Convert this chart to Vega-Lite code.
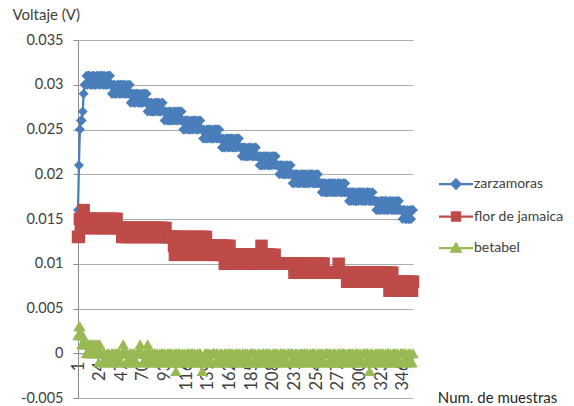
{
"$schema": "https://vega.github.io/schema/vega-lite/v6.json",
"width": 335,
"height": 358,
"autosize": {"type": "none"},
"padding": {"left": 78, "top": 40, "right": 161, "bottom": 8},
"background": "white",
"config": {"view": {"stroke": null}, "font": "Lato"},
"data": {"values": [
{"n":1,"z":0.016,"f":0.013,"b":0.002},
{"n":2,"z":0.021,"f":0.013,"b":0.003},
{"n":3,"z":0.025,"f":0.015,"b":0.003},
{"n":4,"z":0.026,"f":0.014,"b":0.002},
{"n":5,"z":0.026,"f":0.015,"b":0.001},
{"n":6,"z":0.027,"f":0.015,"b":0.002},
{"n":7,"z":0.029,"f":0.016,"b":0.001},
{"n":8,"z":0.03,"f":0.015,"b":0.001},
{"n":9,"z":0.03,"f":0.014,"b":0.001},
{"n":10,"z":0.031,"f":0.015,"b":0},
{"n":11,"z":0.03,"f":0.015,"b":0.001},
{"n":12,"z":0.031,"f":0.014,"b":0.001},
{"n":13,"z":0.031,"f":0.015,"b":0},
{"n":14,"z":0.03,"f":0.015,"b":0.001},
{"n":15,"z":0.03,"f":0.014,"b":0.001},
{"n":16,"z":0.031,"f":0.015,"b":0},
{"n":17,"z":0.03,"f":0.014,"b":0.001},
{"n":18,"z":0.031,"f":0.014,"b":0},
{"n":19,"z":0.03,"f":0.015,"b":0.001},
{"n":20,"z":0.03,"f":0.015,"b":0.001},
{"n":21,"z":0.031,"f":0.014,"b":0},
{"n":22,"z":0.031,"f":0.015,"b":0.001},
{"n":23,"z":0.03,"f":0.014,"b":-0.001},
{"n":24,"z":0.031,"f":0.015,"b":0.001},
{"n":25,"z":0.03,"f":0.015,"b":0},
{"n":26,"z":0.031,"f":0.014,"b":0},
{"n":27,"z":0.031,"f":0.014,"b":-0.001},
{"n":28,"z":0.03,"f":0.015,"b":0},
{"n":29,"z":0.031,"f":0.014,"b":0},
{"n":30,"z":0.03,"f":0.015,"b":-0.001},
{"n":31,"z":0.03,"f":0.015,"b":-0.001},
{"n":32,"z":0.031,"f":0.014,"b":0},
{"n":33,"z":0.03,"f":0.015,"b":-0.001},
{"n":34,"z":0.031,"f":0.014,"b":0},
{"n":35,"z":0.031,"f":0.014,"b":-0.001},
{"n":36,"z":0.03,"f":0.015,"b":-0.001},
{"n":37,"z":0.029,"f":0.015,"b":0},
{"n":38,"z":0.03,"f":0.014,"b":0},
{"n":39,"z":0.029,"f":0.015,"b":-0.001},
{"n":40,"z":0.03,"f":0.014,"b":0},
{"n":41,"z":0.029,"f":0.015,"b":-0.001},
{"n":42,"z":0.029,"f":0.015,"b":0},
{"n":43,"z":0.03,"f":0.014,"b":0},
{"n":44,"z":0.03,"f":0.014,"b":-0.001},
{"n":45,"z":0.029,"f":0.014,"b":0},
{"n":46,"z":0.03,"f":0.014,"b":-0.001},
{"n":47,"z":0.029,"f":0.014,"b":-0.001},
{"n":48,"z":0.03,"f":0.013,"b":0},
{"n":49,"z":0.03,"f":0.013,"b":0.001},
{"n":50,"z":0.029,"f":0.014,"b":0},
{"n":51,"z":0.03,"f":0.014,"b":0},
{"n":52,"z":0.029,"f":0.013,"b":-0.001},
{"n":53,"z":0.029,"f":0.014,"b":0},
{"n":54,"z":0.03,"f":0.013,"b":-0.001},
{"n":55,"z":0.029,"f":0.014,"b":-0.001},
{"n":56,"z":0.03,"f":0.014,"b":0},
{"n":57,"z":0.028,"f":0.013,"b":0},
{"n":58,"z":0.029,"f":0.013,"b":-0.001},
{"n":59,"z":0.029,"f":0.014,"b":0},
{"n":60,"z":0.028,"f":0.013,"b":-0.001},
{"n":61,"z":0.029,"f":0.014,"b":0},
{"n":62,"z":0.028,"f":0.013,"b":-0.001},
{"n":63,"z":0.029,"f":0.014,"b":-0.001},
{"n":64,"z":0.029,"f":0.014,"b":0},
{"n":65,"z":0.028,"f":0.013,"b":0},
{"n":66,"z":0.029,"f":0.014,"b":0},
{"n":67,"z":0.028,"f":0.013,"b":0.001},
{"n":68,"z":0.028,"f":0.013,"b":0},
{"n":69,"z":0.029,"f":0.014,"b":0},
{"n":70,"z":0.028,"f":0.014,"b":-0.001},
{"n":71,"z":0.029,"f":0.013,"b":-0.001},
{"n":72,"z":0.029,"f":0.014,"b":0},
{"n":73,"z":0.028,"f":0.013,"b":-0.001},
{"n":74,"z":0.029,"f":0.014,"b":0},
{"n":75,"z":0.027,"f":0.013,"b":0.001},
{"n":76,"z":0.028,"f":0.013,"b":-0.001},
{"n":77,"z":0.028,"f":0.014,"b":0},
{"n":78,"z":0.027,"f":0.014,"b":0},
{"n":79,"z":0.028,"f":0.013,"b":-0.001},
{"n":80,"z":0.027,"f":0.014,"b":0},
{"n":81,"z":0.027,"f":0.013,"b":-0.001},
{"n":82,"z":0.028,"f":0.014,"b":0},
{"n":83,"z":0.027,"f":0.014,"b":0},
{"n":84,"z":0.028,"f":0.013,"b":-0.001},
{"n":85,"z":0.028,"f":0.013,"b":0},
{"n":86,"z":0.027,"f":0.014,"b":-0.001},
{"n":87,"z":0.028,"f":0.013,"b":-0.001},
{"n":88,"z":0.027,"f":0.014,"b":0},
{"n":89,"z":0.027,"f":0.014,"b":-0.001},
{"n":90,"z":0.028,"f":0.013,"b":0},
{"n":91,"z":0.028,"f":0.014,"b":0},
{"n":92,"z":0.027,"f":0.013,"b":-0.001},
{"n":93,"z":0.026,"f":0.013,"b":0},
{"n":94,"z":0.027,"f":0.014,"b":-0.001},
{"n":95,"z":0.027,"f":0.013,"b":-0.001},
{"n":96,"z":0.026,"f":0.013,"b":0},
{"n":97,"z":0.026,"f":0.013,"b":0},
{"n":98,"z":0.027,"f":0.013,"b":-0.001},
{"n":99,"z":0.026,"f":0.013,"b":0},
{"n":100,"z":0.027,"f":0.013,"b":-0.001},
{"n":101,"z":0.026,"f":0.013,"b":0},
{"n":102,"z":0.026,"f":0.013,"b":-0.001},
{"n":103,"z":0.027,"f":0.012,"b":-0.001},
{"n":104,"z":0.027,"f":0.011,"b":0},
{"n":105,"z":0.026,"f":0.012,"b":-0.002},
{"n":106,"z":0.027,"f":0.013,"b":0},
{"n":107,"z":0.026,"f":0.011,"b":-0.001},
{"n":108,"z":0.027,"f":0.012,"b":0},
{"n":109,"z":0.027,"f":0.013,"b":0},
{"n":110,"z":0.026,"f":0.012,"b":-0.001},
{"n":111,"z":0.027,"f":0.011,"b":-0.001},
{"n":112,"z":0.026,"f":0.013,"b":0},
{"n":113,"z":0.025,"f":0.012,"b":-0.001},
{"n":114,"z":0.026,"f":0.012,"b":0},
{"n":115,"z":0.025,"f":0.011,"b":-0.001},
{"n":116,"z":0.026,"f":0.013,"b":-0.001},
{"n":117,"z":0.026,"f":0.012,"b":0},
{"n":118,"z":0.025,"f":0.011,"b":0},
{"n":119,"z":0.026,"f":0.012,"b":-0.001},
{"n":120,"z":0.025,"f":0.013,"b":0},
{"n":121,"z":0.025,"f":0.011,"b":-0.001},
{"n":122,"z":0.026,"f":0.012,"b":0},
{"n":123,"z":0.025,"f":0.013,"b":0},
{"n":124,"z":0.026,"f":0.012,"b":-0.001},
{"n":125,"z":0.026,"f":0.011,"b":0},
{"n":126,"z":0.025,"f":0.012,"b":-0.001},
{"n":127,"z":0.026,"f":0.013,"b":-0.001},
{"n":128,"z":0.025,"f":0.011,"b":0},
{"n":129,"z":0.025,"f":0.012,"b":-0.001},
{"n":130,"z":0.026,"f":0.012,"b":0},
{"n":131,"z":0.026,"f":0.013,"b":0},
{"n":132,"z":0.025,"f":0.011,"b":-0.001},
{"n":133,"z":0.025,"f":0.012,"b":-0.002},
{"n":134,"z":0.024,"f":0.013,"b":-0.001},
{"n":135,"z":0.025,"f":0.012,"b":-0.001},
{"n":136,"z":0.024,"f":0.011,"b":0},
{"n":137,"z":0.024,"f":0.013,"b":0},
{"n":138,"z":0.025,"f":0.012,"b":-0.001},
{"n":139,"z":0.024,"f":0.011,"b":0},
{"n":140,"z":0.025,"f":0.012,"b":-0.001},
{"n":141,"z":0.025,"f":0.012,"b":0},
{"n":142,"z":0.024,"f":0.011,"b":-0.001},
{"n":143,"z":0.025,"f":0.012,"b":-0.001},
{"n":144,"z":0.024,"f":0.012,"b":0},
{"n":145,"z":0.024,"f":0.011,"b":0},
{"n":146,"z":0.025,"f":0.012,"b":0},
{"n":147,"z":0.025,"f":0.011,"b":-0.001},
{"n":148,"z":0.024,"f":0.011,"b":0},
{"n":149,"z":0.025,"f":0.012,"b":0},
{"n":150,"z":0.024,"f":0.011,"b":-0.001},
{"n":151,"z":0.025,"f":0.012,"b":-0.001},
{"n":152,"z":0.024,"f":0.012,"b":0},
{"n":153,"z":0.024,"f":0.011,"b":-0.001},
{"n":154,"z":0.023,"f":0.012,"b":0},
{"n":155,"z":0.024,"f":0.011,"b":-0.001},
{"n":156,"z":0.023,"f":0.012,"b":-0.001},
{"n":157,"z":0.023,"f":0.01,"b":0},
{"n":158,"z":0.024,"f":0.011,"b":0},
{"n":159,"z":0.024,"f":0.012,"b":-0.001},
{"n":160,"z":0.023,"f":0.01,"b":0},
{"n":161,"z":0.024,"f":0.011,"b":-0.001},
{"n":162,"z":0.023,"f":0.012,"b":0},
{"n":163,"z":0.024,"f":0.01,"b":0},
{"n":164,"z":0.024,"f":0.011,"b":-0.001},
{"n":165,"z":0.023,"f":0.011,"b":0},
{"n":166,"z":0.024,"f":0.01,"b":-0.001},
{"n":167,"z":0.023,"f":0.011,"b":-0.001},
{"n":168,"z":0.023,"f":0.011,"b":0},
{"n":169,"z":0.024,"f":0.01,"b":-0.001},
{"n":170,"z":0.023,"f":0.01,"b":0},
{"n":171,"z":0.024,"f":0.011,"b":0},
{"n":172,"z":0.024,"f":0.01,"b":-0.001},
{"n":173,"z":0.023,"f":0.011,"b":0},
{"n":174,"z":0.023,"f":0.01,"b":-0.001},
{"n":175,"z":0.022,"f":0.011,"b":-0.001},
{"n":176,"z":0.023,"f":0.011,"b":0},
{"n":177,"z":0.023,"f":0.01,"b":0},
{"n":178,"z":0.022,"f":0.011,"b":-0.001},
{"n":179,"z":0.023,"f":0.01,"b":0},
{"n":180,"z":0.022,"f":0.01,"b":-0.001},
{"n":181,"z":0.022,"f":0.011,"b":0},
{"n":182,"z":0.023,"f":0.01,"b":-0.001},
{"n":183,"z":0.022,"f":0.011,"b":-0.001},
{"n":184,"z":0.023,"f":0.011,"b":0},
{"n":185,"z":0.023,"f":0.01,"b":0},
{"n":186,"z":0.022,"f":0.011,"b":0},
{"n":187,"z":0.022,"f":0.01,"b":-0.001},
{"n":188,"z":0.023,"f":0.01,"b":0},
{"n":189,"z":0.022,"f":0.011,"b":0},
{"n":190,"z":0.023,"f":0.011,"b":-0.001},
{"n":191,"z":0.022,"f":0.01,"b":-0.001},
{"n":192,"z":0.022,"f":0.011,"b":0},
{"n":193,"z":0.022,"f":0.01,"b":-0.001},
{"n":194,"z":0.021,"f":0.01,"b":0},
{"n":195,"z":0.022,"f":0.011,"b":-0.001},
{"n":196,"z":0.021,"f":0.012,"b":-0.001},
{"n":197,"z":0.021,"f":0.01,"b":0},
{"n":198,"z":0.022,"f":0.011,"b":0},
{"n":199,"z":0.021,"f":0.01,"b":-0.001},
{"n":200,"z":0.022,"f":0.011,"b":0},
{"n":201,"z":0.022,"f":0.01,"b":-0.001},
{"n":202,"z":0.021,"f":0.01,"b":0},
{"n":203,"z":0.022,"f":0.011,"b":0},
{"n":204,"z":0.021,"f":0.01,"b":-0.001},
{"n":205,"z":0.021,"f":0.011,"b":0},
{"n":206,"z":0.022,"f":0.01,"b":-0.001},
{"n":207,"z":0.021,"f":0.011,"b":-0.001},
{"n":208,"z":0.022,"f":0.01,"b":0},
{"n":209,"z":0.022,"f":0.01,"b":-0.001},
{"n":210,"z":0.021,"f":0.011,"b":0},
{"n":211,"z":0.022,"f":0.01,"b":0},
{"n":212,"z":0.021,"f":0.01,"b":-0.001},
{"n":213,"z":0.021,"f":0.01,"b":0},
{"n":214,"z":0.021,"f":0.01,"b":-0.001},
{"n":215,"z":0.02,"f":0.01,"b":-0.001},
{"n":216,"z":0.021,"f":0.01,"b":0},
{"n":217,"z":0.021,"f":0.01,"b":0},
{"n":218,"z":0.02,"f":0.01,"b":-0.001},
{"n":219,"z":0.021,"f":0.01,"b":0},
{"n":220,"z":0.02,"f":0.01,"b":-0.001},
{"n":221,"z":0.02,"f":0.01,"b":0},
{"n":222,"z":0.021,"f":0.01,"b":-0.001},
{"n":223,"z":0.02,"f":0.01,"b":-0.001},
{"n":224,"z":0.021,"f":0.01,"b":0},
{"n":225,"z":0.02,"f":0.01,"b":0},
{"n":226,"z":0.02,"f":0.01,"b":0},
{"n":227,"z":0.021,"f":0.01,"b":-0.001},
{"n":228,"z":0.02,"f":0.01,"b":0},
{"n":229,"z":0.019,"f":0.01,"b":0},
{"n":230,"z":0.02,"f":0.01,"b":-0.001},
{"n":231,"z":0.019,"f":0.009,"b":-0.001},
{"n":232,"z":0.02,"f":0.01,"b":0},
{"n":233,"z":0.02,"f":0.01,"b":-0.001},
{"n":234,"z":0.019,"f":0.009,"b":0},
{"n":235,"z":0.02,"f":0.009,"b":-0.001},
{"n":236,"z":0.019,"f":0.01,"b":-0.001},
{"n":237,"z":0.019,"f":0.009,"b":0},
{"n":238,"z":0.02,"f":0.01,"b":0},
{"n":239,"z":0.02,"f":0.009,"b":-0.001},
{"n":240,"z":0.019,"f":0.01,"b":0},
{"n":241,"z":0.02,"f":0.01,"b":-0.001},
{"n":242,"z":0.019,"f":0.009,"b":0},
{"n":243,"z":0.02,"f":0.01,"b":0},
{"n":244,"z":0.019,"f":0.009,"b":-0.001},
{"n":245,"z":0.019,"f":0.009,"b":0},
{"n":246,"z":0.02,"f":0.01,"b":-0.001},
{"n":247,"z":0.019,"f":0.009,"b":-0.001},
{"n":248,"z":0.02,"f":0.01,"b":0},
{"n":249,"z":0.02,"f":0.01,"b":-0.001},
{"n":250,"z":0.019,"f":0.009,"b":0},
{"n":251,"z":0.02,"f":0.01,"b":0},
{"n":252,"z":0.019,"f":0.009,"b":-0.001},
{"n":253,"z":0.019,"f":0.009,"b":0},
{"n":254,"z":0.02,"f":0.01,"b":-0.001},
{"n":255,"z":0.019,"f":0.009,"b":-0.001},
{"n":256,"z":0.02,"f":0.01,"b":0},
{"n":257,"z":0.019,"f":0.009,"b":0},
{"n":258,"z":0.019,"f":0.01,"b":-0.001},
{"n":259,"z":0.019,"f":0.01,"b":0},
{"n":260,"z":0.018,"f":0.009,"b":-0.001},
{"n":261,"z":0.019,"f":0.01,"b":0},
{"n":262,"z":0.019,"f":0.01,"b":-0.001},
{"n":263,"z":0.018,"f":0.009,"b":-0.001},
{"n":264,"z":0.019,"f":0.009,"b":0},
{"n":265,"z":0.018,"f":0.009,"b":0},
{"n":266,"z":0.018,"f":0.009,"b":0},
{"n":267,"z":0.019,"f":0.009,"b":-0.001},
{"n":268,"z":0.018,"f":0.009,"b":0},
{"n":269,"z":0.019,"f":0.009,"b":0},
{"n":270,"z":0.019,"f":0.009,"b":-0.001},
{"n":271,"z":0.018,"f":0.009,"b":-0.001},
{"n":272,"z":0.019,"f":0.009,"b":0},
{"n":273,"z":0.018,"f":0.009,"b":-0.001},
{"n":274,"z":0.019,"f":0.009,"b":0},
{"n":275,"z":0.018,"f":0.009,"b":-0.001},
{"n":276,"z":0.018,"f":0.009,"b":-0.001},
{"n":277,"z":0.019,"f":0.009,"b":0},
{"n":278,"z":0.019,"f":0.01,"b":0},
{"n":279,"z":0.018,"f":0.009,"b":-0.001},
{"n":280,"z":0.019,"f":0.009,"b":0},
{"n":281,"z":0.018,"f":0.009,"b":-0.001},
{"n":282,"z":0.018,"f":0.009,"b":0},
{"n":283,"z":0.019,"f":0.009,"b":0},
{"n":284,"z":0.018,"f":0.009,"b":-0.001},
{"n":285,"z":0.019,"f":0.009,"b":0},
{"n":286,"z":0.018,"f":0.009,"b":-0.001},
{"n":287,"z":0.018,"f":0.008,"b":-0.001},
{"n":288,"z":0.018,"f":0.009,"b":0},
{"n":289,"z":0.017,"f":0.009,"b":-0.001},
{"n":290,"z":0.018,"f":0.008,"b":0},
{"n":291,"z":0.017,"f":0.009,"b":0},
{"n":292,"z":0.018,"f":0.008,"b":-0.001},
{"n":293,"z":0.018,"f":0.008,"b":0},
{"n":294,"z":0.017,"f":0.009,"b":-0.001},
{"n":295,"z":0.018,"f":0.008,"b":-0.001},
{"n":296,"z":0.017,"f":0.009,"b":0},
{"n":297,"z":0.017,"f":0.009,"b":0},
{"n":298,"z":0.018,"f":0.008,"b":-0.001},
{"n":299,"z":0.017,"f":0.009,"b":0},
{"n":300,"z":0.018,"f":0.008,"b":-0.001},
{"n":301,"z":0.018,"f":0.008,"b":0},
{"n":302,"z":0.017,"f":0.009,"b":-0.001},
{"n":303,"z":0.018,"f":0.008,"b":-0.001},
{"n":304,"z":0.017,"f":0.009,"b":0},
{"n":305,"z":0.018,"f":0.009,"b":0},
{"n":306,"z":0.017,"f":0.008,"b":0},
{"n":307,"z":0.017,"f":0.009,"b":-0.001},
{"n":308,"z":0.018,"f":0.008,"b":0},
{"n":309,"z":0.018,"f":0.009,"b":0},
{"n":310,"z":0.017,"f":0.008,"b":-0.001},
{"n":311,"z":0.018,"f":0.008,"b":-0.002},
{"n":312,"z":0.017,"f":0.009,"b":0},
{"n":313,"z":0.017,"f":0.009,"b":-0.001},
{"n":314,"z":0.018,"f":0.008,"b":0},
{"n":315,"z":0.017,"f":0.009,"b":-0.001},
{"n":316,"z":0.017,"f":0.008,"b":-0.001},
{"n":317,"z":0.017,"f":0.009,"b":0},
{"n":318,"z":0.016,"f":0.009,"b":0},
{"n":319,"z":0.017,"f":0.008,"b":-0.001},
{"n":320,"z":0.016,"f":0.008,"b":0},
{"n":321,"z":0.016,"f":0.009,"b":-0.001},
{"n":322,"z":0.017,"f":0.008,"b":0},
{"n":323,"z":0.016,"f":0.009,"b":0},
{"n":324,"z":0.017,"f":0.008,"b":-0.001},
{"n":325,"z":0.017,"f":0.009,"b":0},
{"n":326,"z":0.016,"f":0.009,"b":-0.001},
{"n":327,"z":0.017,"f":0.008,"b":-0.001},
{"n":328,"z":0.016,"f":0.009,"b":0},
{"n":329,"z":0.017,"f":0.008,"b":-0.001},
{"n":330,"z":0.016,"f":0.008,"b":0},
{"n":331,"z":0.016,"f":0.009,"b":0},
{"n":332,"z":0.017,"f":0.007,"b":-0.001},
{"n":333,"z":0.017,"f":0.009,"b":0},
{"n":334,"z":0.016,"f":0.007,"b":-0.001},
{"n":335,"z":0.017,"f":0.009,"b":-0.001},
{"n":336,"z":0.016,"f":0.008,"b":0},
{"n":337,"z":0.016,"f":0.007,"b":0},
{"n":338,"z":0.017,"f":0.008,"b":-0.001},
{"n":339,"z":0.016,"f":0.008,"b":0},
{"n":340,"z":0.017,"f":0.007,"b":-0.001},
{"n":341,"z":0.016,"f":0.008,"b":0},
{"n":342,"z":0.017,"f":0.007,"b":-0.001},
{"n":343,"z":0.016,"f":0.007,"b":-0.001},
{"n":344,"z":0.016,"f":0.008,"b":0},
{"n":345,"z":0.016,"f":0.007,"b":0},
{"n":346,"z":0.015,"f":0.008,"b":0},
{"n":347,"z":0.016,"f":0.008,"b":-0.001},
{"n":348,"z":0.016,"f":0.007,"b":0},
{"n":349,"z":0.015,"f":0.008,"b":0},
{"n":350,"z":0.015,"f":0.007,"b":-0.001},
{"n":351,"z":0.016,"f":0.007,"b":-0.001},
{"n":352,"z":0.015,"f":0.008,"b":0},
{"n":353,"z":0.015,"f":0.007,"b":-0.001},
{"n":354,"z":0.016,"f":0.008,"b":0},
{"n":355,"z":0.015,"f":0.007,"b":-0.001},
{"n":356,"z":0.016,"f":0.007,"b":-0.001},
{"n":357,"z":0.016,"f":0.008,"b":0}
]},
"transform": [{"fold": ["z", "f", "b"], "as": ["k", "v"]}],
"encoding": {
  "x": {"field": "n", "type": "quantitative",
    "scale": {"domain": [1, 357], "nice": false, "zero": false},
    "axis": {"values": [1,24,47,70,93,116,139,162,185,208,231,254,277,300,323,346],
      "labelAngle": -90, "labelFont": "Lato", "labelFontSize": 16.5, "labelColor": "#404040",
      "labelPadding": 4, "labelFlush": false, "labelOverlap": false, "grid": false,
      "domainColor": "#8C8C8C", "tickColor": "#8C8C8C", "tickSize": 4, "offset": -44.75, "zindex": 0,
      "title": "Num. de muestras", "titleFont": "Lato", "titleFontSize": 15, "titleFontWeight": "normal",
      "titleColor": "#262626", "titleX": 419, "titleY": 44, "titleAlign": "center", "titleBaseline": "middle"}},
  "y": {"field": "v", "type": "quantitative",
    "scale": {"domain": [-0.005, 0.035], "nice": false, "zero": false},
    "axis": {"values": [-0.005, 0, 0.005, 0.01, 0.015, 0.02, 0.025, 0.03, 0.035],
      "labelExpr": "replace(format(datum.value, '~g'), '\u2212', '-')",
      "labelFont": "Lato", "labelFontSize": 14.5, "labelColor": "#404040", "labelPadding": 10,
      "tickSize": 5, "grid": true, "gridColor": "#ABABAB", "domainColor": "#8C8C8C", "tickColor": "#8C8C8C", "zindex": 0,
      "title": "Voltaje (V)", "titleFont": "Lato", "titleFontSize": 15, "titleFontWeight": "normal", "titleColor": "#404040",
      "titleAngle": 0, "titleX": -66, "titleY": -26, "titleAlign": "left", "titleBaseline": "middle"}},
  "color": {"field": "k", "type": "nominal",
    "scale": {"domain": ["z", "f", "b"], "range": ["#4A7EBB", "#BE4B48", "#98B954"]},
    "legend": {"orient": "none", "legendX": 371, "legendY": 137, "title": null, "padding": 0,
      "labelExpr": "datum.value == 'z' ? 'zarzamoras' : datum.value == 'f' ? 'flor de jamaica' : 'betabel'",
      "labelFont": "Lato", "labelFontSize": 14, "labelColor": "#404040",
      "symbolSize": 49, "rowPadding": 13.5, "labelOffset": 11,
      "encode": {"symbols": {"update": {
        "shape": {"signal": "datum.value == 'z' ? 'M-4.86,0H4.86M0,-1.3L1.3,0L0,1.3L-1.3,0Z' : datum.value == 'f' ? 'M-4.86,0H4.86M-1.15,-1.15H1.15V1.15H-1.15Z' : 'M-4.86,0H4.86M0,-1.25L1.3,1L-1.3,1Z'"},
        "fill": {"scale": "color", "field": "value"},
        "stroke": {"scale": "color", "field": "value"},
        "strokeWidth": {"value": 2.25},
        "opacity": {"value": 1},
        "size": {"value": 49}}}}}}
},
"layer": [
  {"mark": {"type": "line", "strokeWidth": 2.25}},
  {"transform": [{"filter": "datum.k == 'z'"}], "mark": {"type": "point", "shape": "diamond", "size": 100, "filled": true, "opacity": 1}},
  {"transform": [{"filter": "datum.k == 'f'"}], "mark": {"type": "point", "shape": "square", "size": 156, "filled": true, "opacity": 1}},
  {"transform": [{"filter": "datum.k == 'b'"}], "mark": {"type": "point", "shape": "triangle-up", "size": 130, "filled": true, "opacity": 1}}
]
}
